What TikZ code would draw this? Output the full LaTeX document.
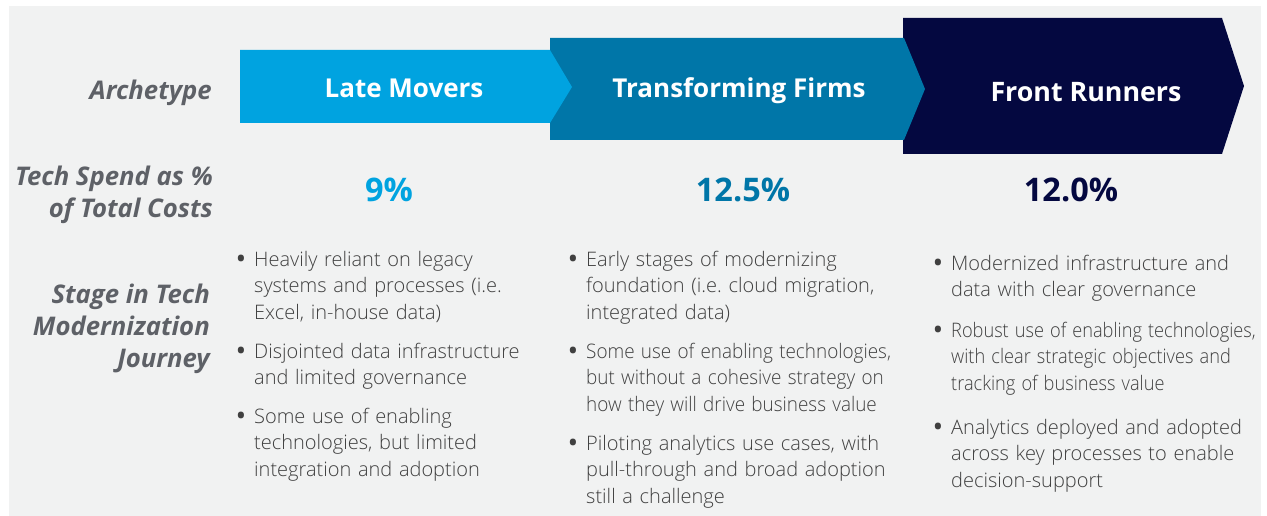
\documentclass[tikz,border=0pt]{standalone}
\usepackage{fontspec}
\usepackage{graphicx}
\setmainfont{Open Sans}
\newfontfamily\lightfont{Open Sans Light}
\definecolor{bggray}{HTML}{F1F2F2}
\definecolor{lmblue}{HTML}{00A3E0}
\definecolor{tfblue}{HTML}{0076A8}
\definecolor{frnavy}{HTML}{040840}
\definecolor{lblgray}{HTML}{5E6167}
\definecolor{bodygray}{HTML}{404040}
\tikzset{
  rowlabel/.style={anchor=base east, align=right, inner sep=0pt, text=lblgray,
    font=\fontsize{25.7}{32}\selectfont\bfseries\itshape},
  headtext/.style={anchor=center, inner sep=0pt, text=white,
    font=\fontsize{26}{30}\selectfont\bfseries},
  pct/.style={anchor=center, inner sep=0pt, font=\fontsize{32.5}{36}\selectfont\bfseries},
  bulletitem/.style={anchor=base west, inner sep=0pt, text width=420pt, align=left,
    text=bodygray, font=\lightfont\fontsize{20}{26.5}\selectfont\frenchspacing},
}
\newcommand\bdot{\llap{{\normalfont\fontsize{22}{22}\selectfont\bfseries\textbullet}\hspace{9pt}}}
\newcommand\sq[2]{\scalebox{#1}[1]{#2}}
\begin{document}
\begin{tikzpicture}[x=1pt,y=-1pt]
\useasboundingbox (0,0) rectangle (1267,516);
\fill[white] (0,0) rectangle (1267,516);
\fill[bggray] (9,6) rectangle (1261,516);
% chevrons
\fill[frnavy] (903,18) -- (1222,18) -- (1244,86) -- (1222,154) -- (903,154) -- cycle;
\fill[tfblue] (550,38) -- (904,38) -- (925,89) -- (904,140) -- (550,140) -- cycle;
\fill[lmblue] (240,50) -- (550,50) -- (572,87) -- (550,123) -- (240,123) -- cycle;
\node[headtext] (lm) at (404,88) {Late Movers};
\node[headtext] (tf) at (739,91) {Transforming Firms};
\node[headtext, font=\fontsize{26.8}{30}\selectfont\bfseries] (fr) at (1086,92) {Front Runners};
% row labels
\node[rowlabel] (l1) at (212,100) {Archetype};
\node[rowlabel] (l2) at (213,217) {Tech Spend as \%\\of Total Costs};
\node[rowlabel] (l3) at (210,367) {Stage in Tech\\Modernization\\Journey};
% percentages
\node[pct, text=lmblue] (p1) at (389,190) {9\%};
\node[pct, text=tfblue] (p2) at (743,190) {12.5\%};
\node[pct, text=frnavy] (p3) at (1071,190) {12.0\%};
% column 1
\node[bulletitem] (a1) at (254,266) {\bdot Heavily reliant on legacy\\systems and processes (i.e.\\Excel, in-house data)};
\node[bulletitem] (a2) at (254,358) {\bdot Disjointed data infrastructure\\and limited governance};
\node[bulletitem] (a3) at (254,423) {\bdot Some use of enabling\\technologies, but limited\\integration and adoption};
% column 2
\node[bulletitem] (b1) at (586,266) {\bdot Early stages of modernizing\\foundation (i.e. cloud migration,\\integrated data)};
\node[bulletitem] (b2) at (586,358) {\bdot\sq{0.945}{Some use of enabling technologies,}\\\sq{0.945}{but without a cohesive strategy on}\\\sq{0.945}{how they will drive business value}};
\node[bulletitem] (b3) at (586,450) {\bdot Piloting analytics use cases, with\\pull-through and broad adoption\\still a challenge};
% column 3
\node[bulletitem] (c1) at (951,270) {\bdot Modernized infrastructure and\\data with clear governance};
\node[bulletitem] (c2) at (951,337) {\bdot\sq{0.91}{Robust use of enabling technologies,}\\\sq{0.91}{with clear strategic objectives and}\\\sq{0.91}{tracking of business value}};
\node[bulletitem] (c3) at (951,434) {\bdot Analytics deployed and adopted\\across key processes to enable\\decision-support};
\end{tikzpicture}
\end{document}
